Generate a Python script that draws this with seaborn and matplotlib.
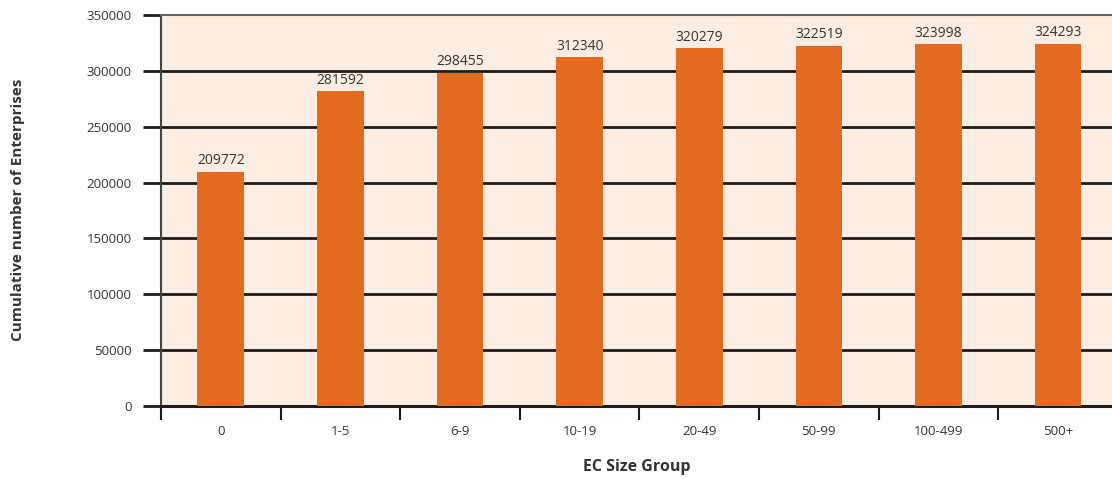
import matplotlib
matplotlib.use("Agg")
import matplotlib.pyplot as plt
import seaborn as sns
import pandas as pd

# Cumulative number of enterprises by employment size group
size_groups = ["0", "1-5", "6-9", "10-19", "20-49", "50-99", "100-499", "500+"]
cumulative_enterprises = [209772, 281592, 298455, 312340, 320279, 322519, 323998, 324293]
y_ticks = [0, 50000, 100000, 150000, 200000, 250000, 300000, 350000]

df = pd.DataFrame({"group": size_groups, "count": cumulative_enterprises})

sns.set_theme(style="white")
plt.rcParams["font.family"] = ["Open Sans", "DejaVu Sans"]

fig = plt.figure(figsize=(11.12, 4.79), dpi=100)
ax = fig.add_axes([161 / 1112, 73 / 479, (1112 - 161) / 1112, 391 / 479])
ax.set_facecolor("#FCEDE2")

bar_color = "#E36A1F"
sns.barplot(data=df, x="group", y="count", color=bar_color, width=0.39,
            saturation=1, linewidth=0, ax=ax, zorder=3)

ax.set_ylim(0, 350000)
ax.set_xlim(-0.5, 7.45)
ax.set_yticks(y_ticks)
ax.set_yticklabels([str(v) for v in y_ticks], fontsize=9.5, color="#333333")

# horizontal rules behind the bars
ax.set_axisbelow(True)
ax.yaxis.grid(True, color="#1c1c1c", linewidth=2)
ax.get_ygridlines()[-1].set_visible(False)
ax.xaxis.grid(False)

ax.tick_params(axis="y", direction="out", length=13, width=2, color="#1c1c1c",
               pad=8, left=True)

# category ticks at boundaries, labels centred under bars
ax.set_xticks(range(len(size_groups)))
ax.set_xticklabels(size_groups, fontsize=9.5, color="#333333")
ax.tick_params(axis="x", which="major", length=0, pad=14)
ax.set_xticks([i - 0.5 for i in range(len(size_groups))], minor=True)
ax.tick_params(axis="x", which="minor", direction="out", length=10, width=1.5,
               color="#1c1c1c", bottom=True)

ax.spines["right"].set_visible(False)
ax.spines["top"].set_color("#666666")
ax.spines["top"].set_linewidth(1.5)
ax.spines["left"].set_color("#444444")
ax.spines["left"].set_linewidth(1.5)
ax.spines["bottom"].set_color("#1c1c1c")
ax.spines["bottom"].set_linewidth(2.2)

for i, v in enumerate(cumulative_enterprises):
    ax.text(i, v + 3000, str(v), ha="center", va="bottom", fontsize=10,
            color="#333333", zorder=4)

ax.set_xlabel("")
ax.set_ylabel("")
fig.text(18 / 1112, 1 - 210 / 479, "Cumulative number of Enterprises", rotation=90,
         ha="center", va="center", fontsize=11, fontweight="bold", color="#333333")
fig.text(637 / 1112, 1 - 467 / 479, "EC Size Group", ha="center", va="center",
         fontsize=11.5, fontweight="bold", color="#333333")

fig.savefig("out.png", dpi=100)
